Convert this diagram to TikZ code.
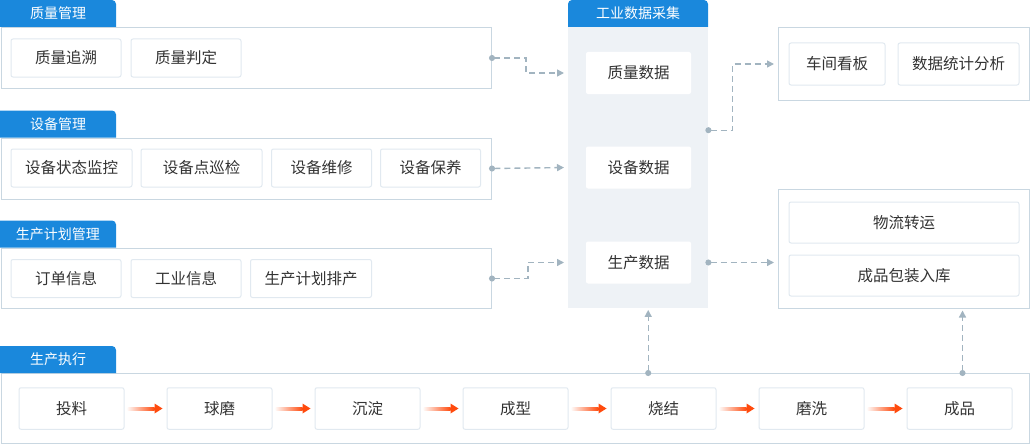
\documentclass[tikz,border=0pt]{standalone}
\usepackage{fontspec}
\newfontfamily\cjk{Noto Sans CJK SC}
\usetikzlibrary{arrows.meta}
\definecolor{tabblue}{HTML}{1A88DC}
\definecolor{boxline}{HTML}{C9D7E1}
\definecolor{itemline}{HTML}{E1E9F0}
\definecolor{colbg}{HTML}{EEF2F6}
\definecolor{dashgray}{HTML}{A2B4C0}
\definecolor{flowred}{HTML}{FF4A0D}
\definecolor{txt}{HTML}{333333}

\begin{document}
\begin{tikzpicture}[x=1pt,y=-1pt,
    tabtext/.style={text=white,font=\cjk\fontsize{14}{14}\selectfont,inner sep=0},
    group/.style={draw=boxline,line width=1pt,fill=white,anchor=north west,inner sep=0},
    item/.style={draw=itemline,line width=1pt,fill=white,rounded corners=2pt,text=txt,
        font=\cjk\fontsize{15.5}{16}\selectfont,minimum height=38,inner sep=0},
    link/.style={draw=dashgray,line width=1.4pt,dash pattern=on 6pt off 4pt,
        {Circle[length=6pt]}-{Triangle[length=7pt,width=7pt]},shorten <=-3pt,shorten >=4pt}]
    \useasboundingbox (0,0) rectangle (1030,444);
    \node[group,minimum width=490.5,minimum height=61] (qgrp) at (0.5,27) {};
    \node[group,minimum width=490.5,minimum height=61] (sgrp) at (0.5,137.5) {};
    \node[group,minimum width=490.5,minimum height=60] (pgrp) at (0.5,248) {};
    \node[group,minimum width=1028.5,minimum height=70] (egrp) at (0.5,373) {};
    \node[group,minimum width=251,minimum height=73] (rgrp1) at (778,27) {};
    \node[group,minimum width=251,minimum height=119] (rgrp2) at (778,189) {};
    \node[fill=colbg,anchor=north west,minimum width=140,minimum height=281,inner sep=0] (col) at (568,27) {};
    \foreach \y/\n/\t in {0/qtab/质量管理, 110.5/stab/设备管理, 220.5/ptab/生产计划管理, 346/etab/生产执行} {
        \fill[tabblue] (0,\y+27) -- (0,\y) -- (112,\y) arc[start angle=-90,end angle=0,radius=4] -- (116,\y+27) -- cycle;
        \node[tabtext] (\n) at (58,\y+13.5) {\t};
    }
    \fill[tabblue] (568,27) -- (568,4) arc[start angle=180,end angle=270,radius=4] -- (704,0)
        arc[start angle=-90,end angle=0,radius=4] -- (708,27) -- cycle;
    \node[tabtext] (ctab) at (638,13.5) {工业数据采集};
    \foreach \n/\x/\w/\t in {zs/66/110/质量追溯, pd/186/110/质量判定}
        \node[item,minimum width=\w] (\n) at (\x,58) {\t};
    \foreach \n/\x/\w/\t in {zt/71.5/121/设备状态监控, dx/201.5/121/设备点巡检, wx/321.5/100/设备维修, by/430.5/100/设备保养}
        \node[item,minimum width=\w] (\n) at (\x,168) {\t};
    \foreach \n/\x/\w/\t in {dd/66/110/订单信息, gy/186/110/工业信息, pc/311/121/生产计划排产}
        \node[item,minimum width=\w] (\n) at (\x,278.5) {\t};
    \foreach \n/\y/\t in {qdata/73/质量数据, sdata/167.5/设备数据, pdata/262.5/生产数据}
        \node[item,draw=none,minimum width=105,minimum height=42] (\n) at (638.5,\y) {\t};
    \node[item,minimum width=96,minimum height=42] (kb) at (837,64) {车间看板};
    \node[item,minimum width=121,minimum height=42] (fx) at (958.5,64) {数据统计分析};
    \node[item,minimum width=230,minimum height=41] (wl) at (904,222.5) {物流转运};
    \node[item,minimum width=230,minimum height=41] (bz) at (904,275.5) {成品包装入库};
    \foreach \n/\i/\t in {tl/0/投料, qm/1/球磨, cd/2/沉淀, cx/3/成型, sj/4/烧结, mx/5/磨洗, cp/6/成品}
        \node[item,minimum width=105,minimum height=41.5] (\n) at (71.5+148*\i,408.5) {\t};
    \foreach \a/\b in {tl/qm, qm/cd, cd/cx, cx/sj, sj/mx, mx/cp} {
        \shade[left color=flowred!4,right color=flowred] ([xshift=3pt,yshift=-1.5pt]\a.east) rectangle ([xshift=-12pt,yshift=1.5pt]\b.west);
        \fill[flowred] ([xshift=-12pt,yshift=5pt]\b.west) -- ([xshift=-4pt]\b.west) -- ([xshift=-12pt,yshift=-5pt]\b.west) -- cycle;
    }
    \draw[link] (qgrp.east) -- ++(34,0) |- (qdata -| col.west);
    \draw[link] (sgrp.east) -- (sdata -| col.west);
    \draw[link] (pgrp.east) -- ++(36,0) |- (pdata -| col.west);
    \draw[link] ([yshift=37.5pt]col.east) -- ++(24,0) |- (rgrp1.west);
    \draw[link] (pdata -| col.east) -- (pdata -| rgrp2.west);
    \draw[link,shorten >=1.5pt] ([xshift=10pt]col.south |- egrp.north) -- ([xshift=10pt]col.south);
    \draw[link,shorten >=1.5pt] ([xshift=3pt]cp.north |- egrp.north) -- ([xshift=3pt]cp.north |- rgrp2.south);
\end{tikzpicture}
\end{document}
